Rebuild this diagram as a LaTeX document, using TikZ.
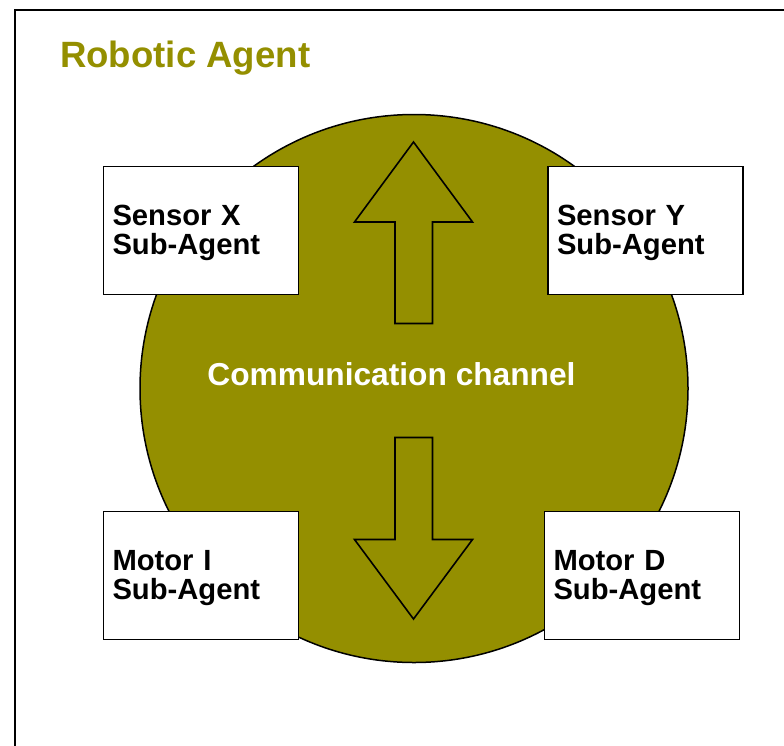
\documentclass[tikz,border=0pt]{standalone}
\usepackage{fontspec}
\setmainfont{Liberation Sans}
\definecolor{olive}{HTML}{948F00}
\tikzset{
  agentbox/.style={draw=black, line width=1.8pt, fill=white, rectangle,
    minimum width=195pt, minimum height=128pt, text width=177pt,
    inner xsep=9pt, align=left,
    font=\fontsize{29.2}{29}\selectfont\bfseries,
    execute at begin node={\rule{0pt}{25.5pt}}},
  channel/.style={draw=black, line width=1.5pt, fill=olive},
  flow/.style={draw=black, line width=1.6pt, fill=olive, line join=miter},
}
\begin{document}
\begin{tikzpicture}[x=1pt, y=1pt]
  \useasboundingbox (0,0) rectangle (784,-745);
  % outer frame of the agent (runs off the page on the right and bottom)
  \begin{scope}
    \clip (0,0) rectangle (784,-745);
    \draw[line width=2.2pt] (15,-10) rectangle (820,-790);
  \end{scope}
  \node[anchor=base west, text=olive, font=\fontsize{36.6}{40}\selectfont\bfseries, inner sep=0pt]
    (title) at (60,-67) {Robotic Agent};

  % shared communication channel
  \node[channel, circle, minimum size=548pt, inner sep=0pt] (chan) at (414,-388.5) {};
  \node[text=white, font=\fontsize{31.7}{34}\selectfont\bfseries, inner sep=0pt, anchor=base]
    (chanlabel) at (391.5,-385.5) {Communication channel};

  % upward flow arrow
  \draw[flow] (413.5,-142) -- (472.5,-222) -- (432.5,-222) -- (432.5,-323.5)
    -- (395,-323.5) -- (395,-222) -- (354.5,-222) -- cycle;
  % downward flow arrow
  \draw[flow] (413.5,-619) -- (472.5,-539.5) -- (432.5,-539.5) -- (432.5,-437.5)
    -- (395,-437.5) -- (395,-539.5) -- (354.5,-539.5) -- cycle;

  % sub-agents
  \node[agentbox] (sensx) at (201,-230.5) {Sensor X\\Sub-Agent};
  \node[agentbox] (sensy) at (645.5,-230.5) {Sensor Y\\Sub-Agent};
  \node[agentbox] (motori) at (201,-575.5) {Motor I\\Sub-Agent};
  \node[agentbox] (motord) at (642,-575.5) {Motor D\\Sub-Agent};
\end{tikzpicture}
\end{document}
